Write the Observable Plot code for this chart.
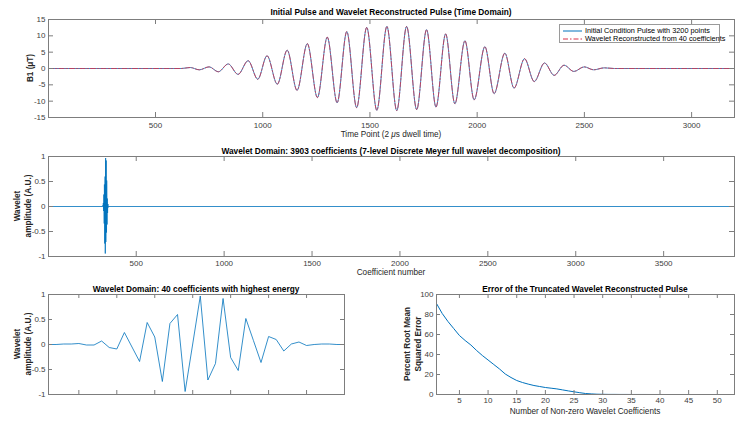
<!DOCTYPE html>
<html><head><meta charset="utf-8">
<script src="https://cdn.jsdelivr.net/npm/d3@7"></script>
<script src="https://cdn.jsdelivr.net/npm/@observablehq/plot@0.6"></script>
<style>
body{margin:0;background:#fff;}
#root{position:relative;width:750px;height:426px;font-family:"Liberation Sans",Arial,Helvetica,sans-serif;overflow:hidden;background:#fff}
.panel{position:absolute}
.t{position:absolute;white-space:nowrap;color:#000;font-weight:bold;font-size:8.3px;line-height:1;transform:translate(-50%,-50%)}
.xl{position:absolute;white-space:nowrap;color:#262626;font-size:8.2px;line-height:1;transform:translate(-50%,-50%)}
.yl{position:absolute;white-space:nowrap;color:#262626;font-size:8.2px;font-weight:bold;line-height:11px;text-align:center;transform:translate(-50%,-50%) rotate(-90deg)}
.legend{position:absolute;left:559px;top:24px;width:159px;height:17px;border:1px solid #9a9a9a;background:#fff;font-size:7.3px;color:#000}
.legend .row{position:absolute;left:3px;height:8px;line-height:8px;white-space:nowrap}
.legend svg{vertical-align:middle;margin-right:3px}
</style></head>
<body><div id="root"></div>
<script>
// ---- Data ----
// Top panel: extrema of the RF pulse (time point, B1 in µT)
const pulseT = [1, 620, 662, 704, 750, 793, 839, 885, 932, 977, 1020, 1068, 1114, 1160, 1208, 1255, 1301, 1347, 1392, 1438, 1485, 1532, 1579, 1625, 1671, 1718, 1764, 1808, 1853, 1896, 1943, 1986, 2036, 2079, 2129, 2172, 2221, 2266, 2314, 2359, 2405, 2451, 2499, 2543, 2593, 2640, 3200];
const pulseB = [0, 0, 0.3, -0.4, 0.5, -1.0, 1.4, -1.8, 2.4, -3.3, 3.9, -4.8, 5.6, -6.7, 7.6, -8.9, 9.6, -10.5, 11.3, -12.0, 12.6, -12.8, 12.9, -12.9, 12.9, -12.6, 11.9, -11.8, 10.6, -10.8, 8.5, -9.6, 6.7, -7.7, 4.7, -6.0, 3.0, -4.0, 1.7, -2.1, 1.0, -0.9, 0.5, -0.4, 0.2, 0, 0];
// Wavelet coefficients: the 40 with highest energy
const coeffs = [0.0, 0.0, 0.01, 0.01, 0.02, -0.01, -0.01, 0.07, -0.06, -0.09, 0.24, -0.05, -0.34, 0.44, 0.15, -0.74, 0.42, 0.60, -0.94, 0.01, 0.97, -0.71, -0.38, 0.92, -0.26, -0.52, 0.52, 0.08, -0.36, 0.16, 0.10, -0.13, 0.01, 0.05, -0.02, 0.0, 0.01, 0.01, 0.0, 0.0];
const totalCoeffs = 3903;
const spikeStart = 306;
// Percent RMS error vs number of non-zero coefficients (1..53)
const errValues = [91, 81, 73, 66, 59, 54, 49.5, 44, 39, 34.5, 30, 25.5, 20.5, 17, 14, 12, 10.4, 9, 8, 7, 6.3, 5.6, 4.6, 3.6, 2.7, 1.8, 1.0, 0.6, 0.3, 0.2, 0.1, 0.1, 0.05, 0.05, 0.03, 0.02, 0.02, 0.01, 0.01, 0.01, 0, 0, 0, 0, 0, 0, 0, 0, 0, 0, 0, 0, 0];
// Ticks
const ticksX1 = [500, 1000, 1500, 2000, 2500, 3000];
const ticksY1 = [-15, -10, -5, 0, 5, 10, 15];
const ticksX2 = [500, 1000, 1500, 2000, 2500, 3000, 3500];
const ticksYc = [-1, -0.5, 0, 0.5, 1];
const ticksX3 = [5, 10, 15, 20, 25, 30, 35];
const ticksX4 = [5, 10, 15, 20, 25, 30, 35, 40, 45, 50];
const ticksY4 = [0, 20, 40, 60, 80, 100];

// ---- Build tables ----
const pulse = pulseT.map((t, i) => ({t, b: pulseB[i]}));
const coeffTable = coeffs.map((v, i) => ({i: i + 1, v}));
const fullTable = [{n: 1, v: 0}, ...coeffs.map((v, i) => ({n: spikeStart + i, v})), {n: totalCoeffs, v: 0}];
const errTable = errValues.map((e, i) => ({n: i + 1, e}));

const BLUE = "#0072BD", RED = "#d6304a", FRAME = "#7d7d7d", TICKC = "#404040";
const root = document.getElementById("root");

function panel({left, top, width, height, ml, mr, mt, mb, xdom, ydom, xticks, yticks, xlabels = true, tick = 5, pad = 4, marks}) {
  const fw = width - ml - mr, fh = height - mt - mb;
  const svg = Plot.plot({
    width, height, marginLeft: ml, marginRight: mr, marginTop: mt, marginBottom: mb,
    x: {domain: xdom}, y: {domain: ydom},
    style: {fontFamily: '"Liberation Sans",Arial,sans-serif', fontSize: "8px", color: TICKC, background: "transparent", overflow: "visible"},
    marks: [
      ...marks,
      Plot.frame({stroke: FRAME}),
      Plot.tickX(xticks, {x: d => d, insetTop: fh - tick, stroke: FRAME}),
      Plot.tickX(xticks, {x: d => d, insetBottom: fh - tick, stroke: FRAME}),
      Plot.tickY(yticks, {y: d => d, insetRight: fw - tick, stroke: FRAME}),
      Plot.tickY(yticks, {y: d => d, insetLeft: fw - tick, stroke: FRAME}),
      Plot.axisX(xlabels ? xticks : [], {tickSize: 0, tickPadding: pad, label: null, tickFormat: d => String(d)}),
      Plot.axisY(yticks, {tickSize: 0, tickPadding: 3, label: null, tickFormat: d => String(d)})
    ]
  });
  const div = document.createElement("div");
  div.className = "panel";
  div.style.left = left + "px"; div.style.top = top + "px";
  div.appendChild(svg);
  root.appendChild(div);
}

// Top: time domain
panel({left: 0, top: 0, width: 750, height: 140, ml: 48, mr: 16, mt: 19, mb: 23,
  xdom: [1, 3200], ydom: [-15, 15], xticks: ticksX1, yticks: ticksY1, pad: 5,
  marks: [
    Plot.line(pulse, {x: "t", y: "b", stroke: BLUE, strokeWidth: 0.8, curve: "monotone-x"}),
    Plot.line(pulse, {x: "t", y: "b", stroke: RED, strokeWidth: 0.8, strokeDasharray: "5,2,1.5,2", curve: "monotone-x"})
  ]});

// Middle: full wavelet domain
panel({left: 0, top: 140, width: 750, height: 140, ml: 48, mr: 16, mt: 16, mb: 24,
  xdom: [1, totalCoeffs], ydom: [-1, 1], xticks: ticksX2, yticks: ticksYc, pad: 4,
  marks: [Plot.line(fullTable, {x: "n", y: "v", stroke: BLUE, strokeWidth: 0.8})]});

// Bottom-left: 40 coefficients
panel({left: 0, top: 280, width: 375, height: 146, ml: 48, mr: 31, mt: 14, mb: 32,
  xdom: [1, 40], ydom: [-1, 1], xticks: ticksX3, yticks: ticksYc, xlabels: false, tick: 4,
  marks: [Plot.line(coeffTable, {x: "i", y: "v", stroke: BLUE, strokeWidth: 0.8})]});

// Bottom-right: error
panel({left: 375, top: 280, width: 375, height: 146, ml: 61, mr: 16, mt: 14, mb: 32,
  xdom: [1, 53], ydom: [0, 100], xticks: ticksX4, yticks: ticksY4, tick: 4, pad: 3,
  marks: [Plot.line(errTable, {x: "n", y: "e", stroke: BLUE, strokeWidth: 1})]});

// ---- Text ----
function txt(cls, x, y, html) {
  const d = document.createElement("div");
  d.className = cls; d.style.left = x + "px"; d.style.top = y + "px"; d.innerHTML = html;
  root.appendChild(d);
}
txt("t", 391, 12, "Initial Pulse and Wavelet Reconstructed Pulse (Time Domain)");
txt("t", 391, 150.5, "Wavelet Domain: 3903 coefficients (7-level Discrete Meyer full wavelet decomposition)");
txt("t", 196, 288.5, "Wavelet Domain: 40 coefficients with highest energy");
txt("t", 585, 288.5, "Error of the Truncated Wavelet Reconstructed Pulse");
txt("xl", 391, 135, "Time Point (2 <i>μ</i>s dwell time)");
txt("xl", 391, 273, "Coefficient number");
txt("xl", 585, 411.5, "Number of Non-zero Wavelet Coefficients");
txt("yl", 30, 68, "B1 (μT)");
txt("yl", 22.5, 206, "Wavelet<br>amplitude (A.U.)");
txt("yl", 22.5, 344, "Wavelet<br>amplitude (A.U.)");
txt("yl", 412.5, 344, "Percent Root Mean<br>Squared Error");

// Legend
const lg = document.createElement("div");
lg.className = "legend";
lg.innerHTML =
  `<div class="row" style="top:1.5px"><svg width="19" height="6"><line x1="0" y1="3" x2="19" y2="3" stroke="${BLUE}" stroke-width="1"/></svg>Initial Condition Pulse with 3200 points</div>` +
  `<div class="row" style="top:9.5px"><svg width="19" height="6"><line x1="0" y1="3" x2="19" y2="3" stroke="${RED}" stroke-width="1" stroke-dasharray="5,2,1.5,2"/></svg>Wavelet Reconstructed from 40 coefficients</div>`;
root.appendChild(lg);
</script></body></html>
